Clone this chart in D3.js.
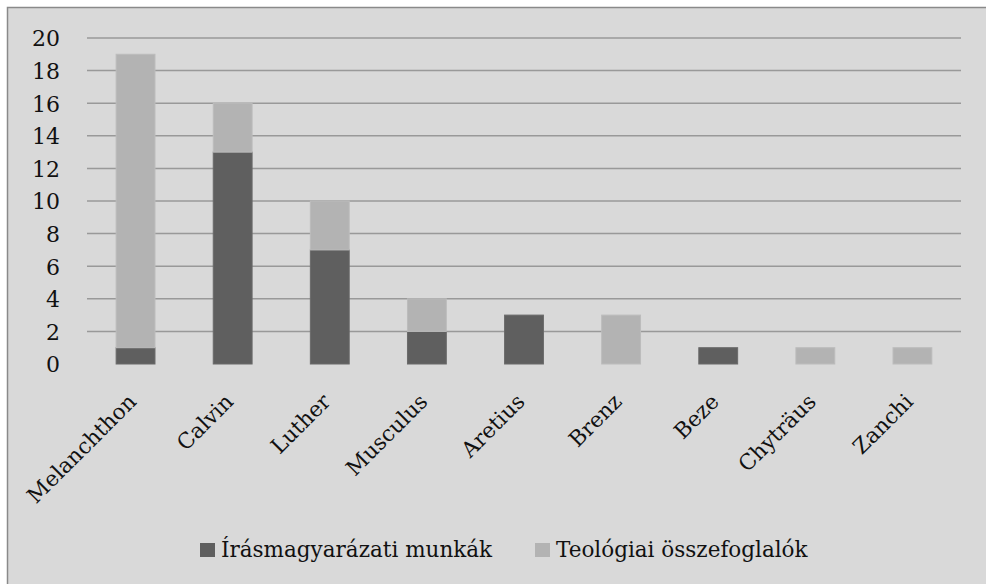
<!DOCTYPE html>
<html>
<head>
<meta charset="utf-8">
<script src="https://cdn.jsdelivr.net/npm/d3@7"></script>
<style>
  body { margin: 0; background: #fff; }
  svg text { font-family: "DejaVu Serif", "Liberation Serif", serif; fill: #111; }
</style>
</head>
<body>
<svg id="chart" width="986" height="584"></svg>
<script>
// authors and counts per type
var authors = ["Melanchthon", "Calvin", "Luther", "Musculus", "Aretius", "Brenz", "Beze", "Chytr\u00e4us", "Zanchi"];
var exegetical = [1, 13, 7, 2, 3, 0, 1, 0, 0];
var theological = [18, 3, 3, 2, 0, 3, 0, 1, 1];
var seriesNames = ["\u00cdr\u00e1smagyar\u00e1zati munk\u00e1k", "Teol\u00f3giai \u00f6sszefoglal\u00f3k"];
var seriesColors = ["#5f5f5f", "#b3b3b3"];
var yTicks = [0, 2, 4, 6, 8, 10, 12, 14, 16, 18, 20];

var margin = {top: 38, right: 25, bottom: 220, left: 87};
var width = 961 - margin.left;
var height = 364 - margin.top;

var svg = d3.select("#chart");

// chart background
svg.append("rect")
    .attr("x", 7.5).attr("y", 7.5)
    .attr("width", 990).attr("height", 590)
    .attr("fill", "#d9d9d9")
    .attr("stroke", "#8a8a8a")
    .attr("stroke-width", 1.5);

var g = svg.append("g")
    .attr("transform", "translate(" + margin.left + "," + margin.top + ")");

var x = d3.scaleBand()
    .domain(authors)
    .range([0, width])
    .paddingInner(0.6)
    .paddingOuter(0.3);

var y = d3.scaleLinear()
    .domain([0, 20])
    .range([height, 0]);

// gridlines
g.selectAll("line.grid")
    .data(yTicks.filter(d => d > 0))
    .enter().append("line")
    .attr("class", "grid")
    .attr("x1", 0).attr("x2", width)
    .attr("y1", d => y(d)).attr("y2", d => y(d))
    .attr("stroke", "#999")
    .attr("stroke-width", 1.5);

// y axis labels
var yAxis = g.append("g")
    .call(d3.axisLeft(y).tickValues(yTicks).tickSize(0).tickPadding(27));
yAxis.select(".domain").remove();
yAxis.selectAll("text")
    .style("font-size", "22px")
    .attr("dy", "0.36em");

// stack the data
var rows = authors.map((a, i) => ({author: a, s0: exegetical[i], s1: theological[i]}));
var stack = d3.stack().keys(["s0", "s1"])(rows);

g.selectAll("g.series")
    .data(stack)
    .enter().append("g")
    .attr("class", "series")
    .attr("fill", (d, i) => seriesColors[i])
    .attr("stroke", (d, i) => i === 0 ? "#6a6a6a" : "#bcbcbc")
    .attr("stroke-width", 1)
    .selectAll("rect")
    .data(d => d.filter(p => p[1] - p[0] > 0))
    .enter().append("rect")
    .attr("x", d => x(d.data.author))
    .attr("width", x.bandwidth())
    .attr("y", d => y(d[1]))
    .attr("height", d => y(d[0]) - y(d[1]));

// x axis labels
var xAxis = g.append("g")
    .attr("transform", "translate(0," + height + ")")
    .call(d3.axisBottom(x).tickSize(0).tickPadding(0));
xAxis.select(".domain").remove();
xAxis.selectAll("text")
    .style("font-size", "21.5px")
    .attr("text-anchor", "end")
    .attr("dy", "0")
    .attr("transform", "translate(2,39) rotate(-45)");

// legend
var legend = svg.append("g")
    .attr("transform", "translate(200,557)");
var lx = [0, 335];
seriesNames.forEach((name, i) => {
    var item = legend.append("g").attr("transform", "translate(" + lx[i] + ",0)");
    item.append("rect")
        .attr("x", 0).attr("y", -14)
        .attr("width", 15).attr("height", 14)
        .attr("fill", seriesColors[i]);
    item.append("text")
        .attr("x", 21).attr("y", 0)
        .style("font-size", "21.5px")
        .text(name);
});
</script>
</body>
</html>
